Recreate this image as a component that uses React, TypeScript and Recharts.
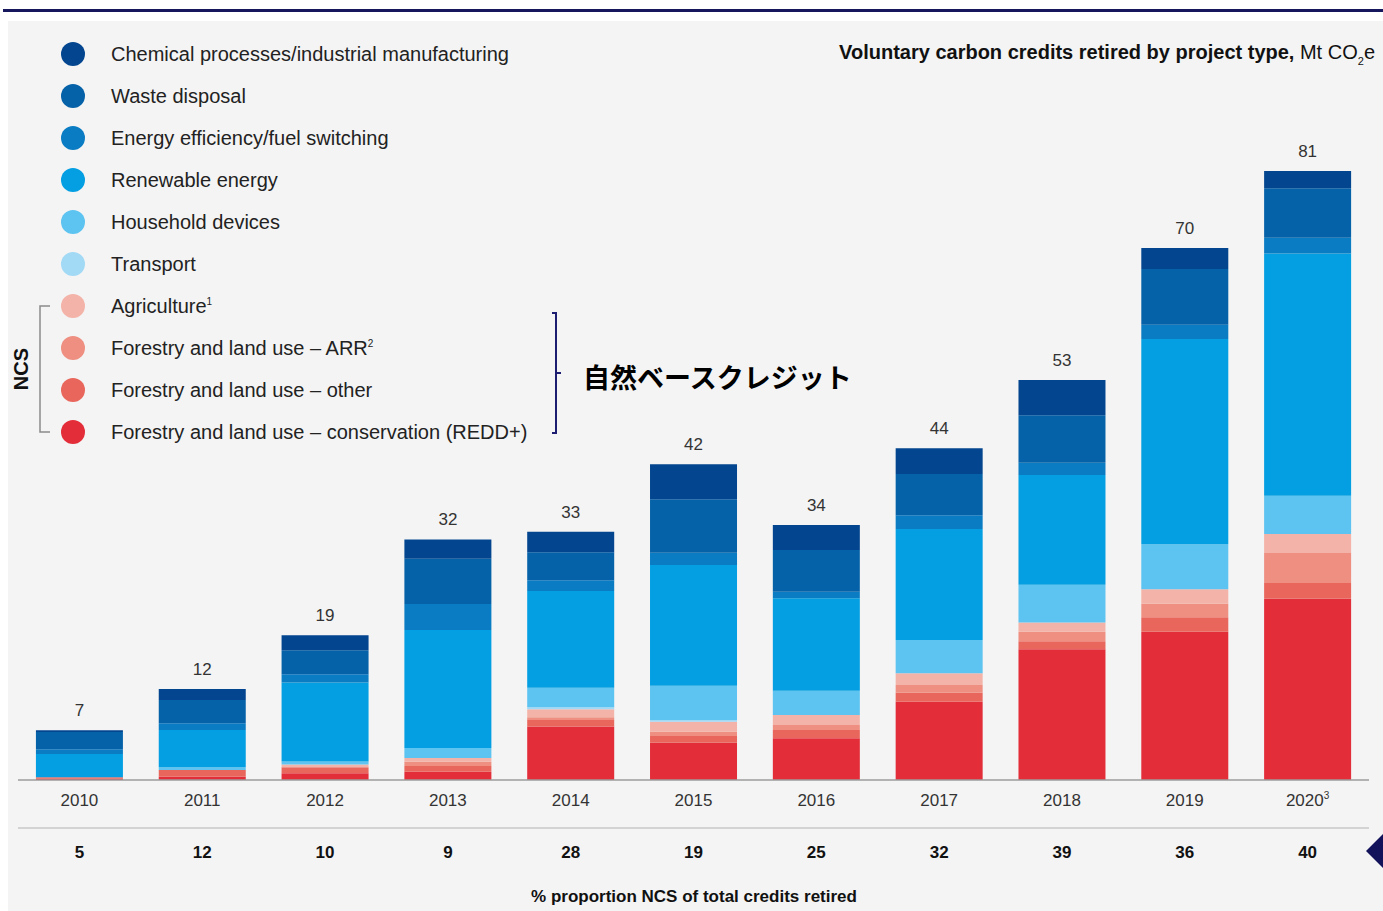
import { BarChart, Bar, XAxis, YAxis, LabelList } from 'recharts'

const years = ['2010', '2011', '2012', '2013', '2014', '2015', '2016', '2017', '2018', '2019', '2020']
const totals = [7, 12, 19, 32, 33, 42, 34, 44, 53, 70, 81]
const ncsShare = [5, 12, 10, 9, 28, 19, 25, 32, 39, 36, 40]

// Mt CO2e per project type
const chemical = [0.25, 1.46, 2.0, 2.57, 2.74, 4.65, 3.32, 3.42, 4.7, 2.8, 2.3]
const waste = [2.3, 3.1, 3.19, 6.0, 3.72, 7.1, 5.55, 5.49, 6.3, 7.4, 6.6]
const energyEff = [0.62, 0.89, 1.1, 3.46, 1.42, 1.64, 0.88, 1.82, 1.64, 1.9, 2.1]
const renewable = [3.1, 4.96, 10.5, 15.7, 12.86, 16.05, 12.29, 14.76, 14.6, 27.3, 32.2]
const household = [0, 0.36, 0.4, 1.33, 2.6, 4.56, 3.23, 4.43, 5.0, 6.0, 5.1]
const transport = [0, 0, 0, 0, 0.27, 0.23, 0, 0, 0, 0, 0]
const agriculture = [0, 0, 0.36, 0.5, 1.06, 1.33, 1.33, 1.56, 1.25, 1.9, 2.5]
const arr = [0, 0, 0, 0.57, 0.36, 0.57, 0.66, 1.02, 1.24, 1.8, 4.0]
const forestOther = [0.2, 0.89, 0.8, 0.76, 0.89, 0.89, 1.1, 1.2, 1.06, 1.95, 2.1]
const redd = [0.16, 0.44, 0.89, 1.1, 7.1, 4.96, 5.55, 10.41, 17.4, 19.7, 24.1]

// legend order (top of stack first)
const series = [
  { key: 'chemical', label: 'Chemical processes/industrial manufacturing', sup: '', color: '#03468f', values: chemical },
  { key: 'waste', label: 'Waste disposal', sup: '', color: '#0662a8', values: waste },
  { key: 'energyEff', label: 'Energy efficiency/fuel switching', sup: '', color: '#0a7cc3', values: energyEff },
  { key: 'renewable', label: 'Renewable energy', sup: '', color: '#039fe2', values: renewable },
  { key: 'household', label: 'Household devices', sup: '', color: '#5dc3f0', values: household },
  { key: 'transport', label: 'Transport', sup: '', color: '#a2d9f5', values: transport },
  { key: 'agriculture', label: 'Agriculture', sup: '1', color: '#f4b3a8', values: agriculture },
  { key: 'arr', label: 'Forestry and land use – ARR', sup: '2', color: '#ee8f81', values: arr },
  { key: 'forestOther', label: 'Forestry and land use – other', sup: '', color: '#e9665c', values: forestOther },
  { key: 'redd', label: 'Forestry and land use – conservation (REDD+)', sup: '', color: '#e32e3a', values: redd },
]

const data = years.map((year, i) => {
  const row: Record<string, string | number> = { year, total: totals[i], ncs: ncsShare[i] }
  series.forEach((s) => {
    row[s.key] = s.values[i]
  })
  return row
})

const FONT = '"Liberation Sans", Arial, Helvetica, sans-serif'

function YearTick(props: any) {
  const { x, y, payload } = props
  const isLast = payload.value === '2020'
  return (
    <text x={x} y={y + 18} textAnchor="middle" fontSize={17} fill="#333" fontFamily={FONT}>
      {payload.value}
      {isLast && (
        <tspan dy={-7} fontSize={10}>
          3
        </tspan>
      )}
    </text>
  )
}

function PctTick(props: any) {
  const { x, y, index } = props
  return (
    <text x={x} y={y + 22} textAnchor="middle" fontSize={17} fontWeight="bold" fill="#111" fontFamily={FONT}>
      {ncsShare[index]}
    </text>
  )
}

function TotalLabel(props: any) {
  const { x, y, width, index } = props
  return (
    <text x={x + width / 2} y={y - 14} textAnchor="middle" fontSize={17} fill="#333" fontFamily={FONT}>
      {totals[index]}
    </text>
  )
}

export default function App() {
  const stack = [...series].reverse()
  return (
    <div style={{ position: 'absolute', left: 0, top: 0, width: 1383, height: 911, background: '#fff', overflow: 'hidden', fontFamily: FONT }}>
      <div style={{ position: 'absolute', left: 3, top: 9, right: 0, height: 3, background: '#17175e' }} />
      <div style={{ position: 'absolute', left: 8, top: 21, width: 1375, height: 890, background: '#f4f4f4' }} />

      <div style={{ position: 'absolute', left: 0, top: 0 }}>
        <BarChart
          width={1383}
          height={911}
          data={data}
          margin={{ top: 28, right: 14, left: 18, bottom: 43 }}
          barCategoryGap="14.6%"
        >
          <YAxis hide domain={[0, 100]} />
          <XAxis
            xAxisId="axis1"
            dataKey="year"
            height={48}
            axisLine={{ stroke: '#9c9c9c', strokeWidth: 1.5 }}
            tickLine={false}
            tick={<YearTick />}
            interval={0}
          />
          <XAxis
            xAxisId="axis2"
            dataKey="year"
            height={40}
            axisLine={{ stroke: '#c8c8c8', strokeWidth: 1.5 }}
            tickLine={false}
            tick={<PctTick />}
            interval={0}
          />
          {stack.map((s, i) => (
            <Bar
              key={s.key}
              xAxisId="axis1"
              dataKey={s.key}
              stackId="a"
              fill={s.color}
              isAnimationActive={false}
            >
              {i === stack.length - 1 && <LabelList dataKey="total" content={<TotalLabel />} />}
            </Bar>
          ))}
        </BarChart>
      </div>

      {/* legend */}
      <div style={{ position: 'absolute', left: 61, top: 33 }}>
        {series.map((s) => (
          <div key={s.key} style={{ display: 'flex', alignItems: 'center', height: 42 }}>
            <div style={{ width: 24, height: 24, borderRadius: 12, background: s.color }} />
            <div style={{ marginLeft: 26, fontSize: 20, color: '#222', whiteSpace: 'nowrap' }}>
              {s.label}
              {s.sup && <sup style={{ fontSize: 10 }}>{s.sup}</sup>}
            </div>
          </div>
        ))}
      </div>

      {/* title */}
      <div style={{ position: 'absolute', right: 8, top: 41, fontSize: 20, color: '#111', whiteSpace: 'nowrap' }}>
        <b>Voluntary carbon credits retired by project type,</b> Mt CO
        <span style={{ fontSize: 11, position: 'relative', top: 6 }}>2</span>e
      </div>

      {/* NCS bracket + Japanese note */}
      <svg width={1383} height={911} style={{ position: 'absolute', left: 0, top: 0, pointerEvents: 'none' }}>
        <path d="M50 306 H40 V432 H50" fill="none" stroke="#8a8a8a" strokeWidth={1.5} />
        <text
          x={28}
          y={369}
          transform="rotate(-90 28 369)"
          textAnchor="middle"
          fontSize={20}
          fontWeight="bold"
          fill="#111"
          fontFamily={FONT}
        >
          NCS
        </text>
        <path d="M552 313 H556 V433 H552 M556 373 H561" fill="none" stroke="#1c1c70" strokeWidth={2} />
        <text x={583} y={388} fontSize={27} fontWeight="bold" fill="#000" fontFamily={'"Noto Sans CJK JP", sans-serif'}>
          自然ベースクレジット
        </text>
        <polygon points="1366,851 1383,834 1383,868" fill="#12125a" />
      </svg>

      <div
        style={{
          position: 'absolute',
          left: 694,
          top: 887,
          transform: 'translateX(-50%)',
          fontSize: 17,
          fontWeight: 'bold',
          color: '#111',
          whiteSpace: 'nowrap',
        }}
      >
        % proportion NCS of total credits retired
      </div>
    </div>
  )
}
